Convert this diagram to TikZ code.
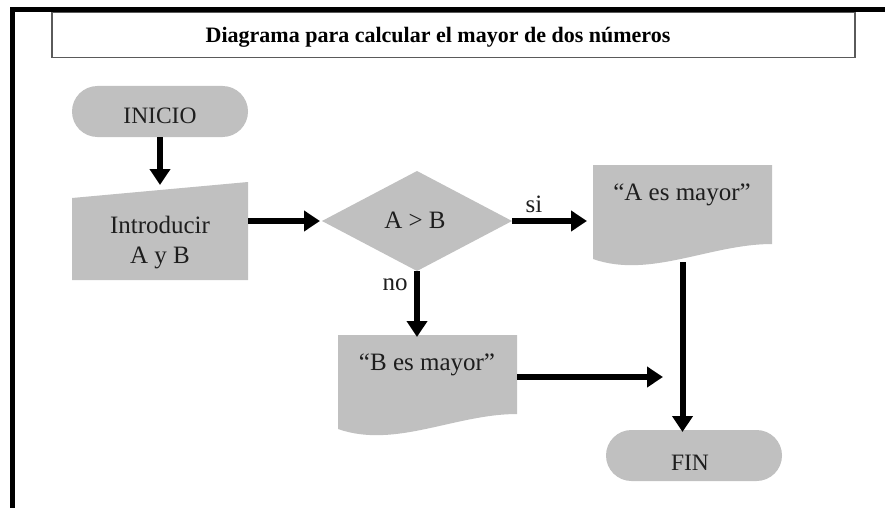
\documentclass[tikz,border=0pt]{standalone}
\usepackage{fontspec}
\setmainfont{Liberation Serif}
\usetikzlibrary{arrows.meta,shapes.misc}
\definecolor{shapegray}{RGB}{192,192,192}
\definecolor{txtgray}{RGB}{30,30,30}
\definecolor{titlegray}{RGB}{90,90,90}
\begin{document}
\begin{tikzpicture}[x=1pt,y=-1pt,
  arr/.style={line width=6pt,-{Triangle[width=20pt,length=16pt]}},
  lbl/.style={font=\fontsize{25}{30}\selectfont, text=txtgray, inner sep=0pt, anchor=base},
  caplbl/.style={lbl, font=\fontsize{23.5}{28}\selectfont},
  box/.style={inner sep=0pt, outer sep=0pt, draw=none},
  term/.style={box, rounded rectangle, fill=shapegray, minimum width=176pt, minimum height=51pt},
]
\fill[white] (0,0) rectangle (885,508);
\useasboundingbox (0,0) rectangle (885,508);

% frame and title
\draw[line width=5pt, line join=miter] (12,508) -- (12,9.5) -- (885,9.5);
\node[box, draw=titlegray, line width=1.2pt, minimum width=803pt, minimum height=45pt] (title) at (453.5,35) {};
\node[lbl, font=\fontsize{22}{26}\selectfont\bfseries, text=black] (ttitle) at (438,43) {Diagrama para calcular el mayor de dos números};

% shapes
\node[term] (inicio) at (160,111.5) {};
\node[box, minimum width=176pt, minimum height=98pt] (intro) at (160,231) {};
\fill[shapegray] (intro.south west) -- (intro.south east) -- (intro.north east) -- ([yshift=-16pt]intro.north west) -- cycle;
\node[box, minimum width=190pt, minimum height=100pt] (dec) at (417,221) {};
\fill[shapegray] (dec.north) -- (dec.east) -- (dec.south) -- (dec.west) -- cycle;
\node[box, minimum width=179pt, minimum height=97pt] (docA) at (682.5,213.5) {};
\fill[shapegray] (docA.north west) -- ++(179,0) -- ++(0,79) .. controls +(-62,0) and +(57,20) .. ++(-179,15) -- cycle;
\node[box, minimum width=179pt, minimum height=97pt] (docB) at (427.5,383.5) {};
\fill[shapegray] (docB.north west) -- ++(179,0) -- ++(0,79) .. controls +(-62,0) and +(57,20) .. ++(-179,15) -- cycle;
\node[term] (fin) at (694,455.5) {};

% texts
\node[caplbl] (tinicio) at (160,123) {INICIO};
\node[lbl] (tintro1) at (160,233) {Introducir};
\node[lbl] (tintro2) at (160,263) {A y B};
\node[lbl] (tdec) at (415,228) {A > B};
\node[lbl] (tA) at (682,200) {“A es mayor”};
\node[lbl] (tB) at (427,370) {“B es mayor”};
\node[caplbl] (tfin) at (690,470) {FIN};
\node[lbl] (tsi) at (534,212) {si};
\node[lbl] (tno) at (395,290) {no};

% connectors
\coordinate (bend) at (663,377);
\draw[arr] (inicio.south) -- ([yshift=-3pt]inicio.south |- intro.north);
\draw[arr] (intro.east |- dec.west) -- ([xshift=-2pt]dec.west);
\draw[arr] (dec.east) -- ([xshift=-6pt]dec.east -| docA.west);
\draw[arr] (dec.south) -- ([yshift=-2pt]dec.south |- docB.north);
\draw[arr] (docA.south) -- ([yshift=-2pt]docA.south |- fin.north);
\draw[arr] (bend -| docB.east) -- (bend);
\end{tikzpicture}
\end{document}
